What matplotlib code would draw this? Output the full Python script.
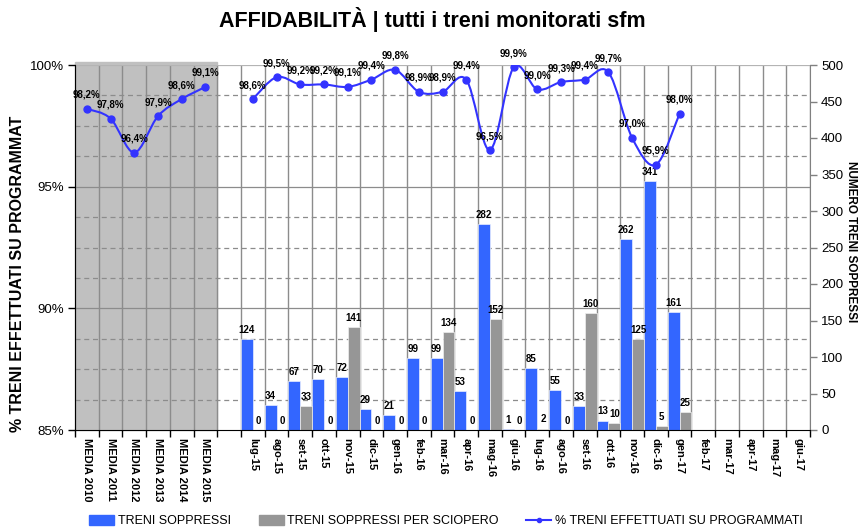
import numpy as np
import matplotlib
matplotlib.use("Agg")
from matplotlib import pyplot as plt
from matplotlib.path import Path
from matplotlib.patches import PathPatch
from matplotlib.lines import Line2D
from matplotlib.patches import Patch

plt.rcParams['font.family'] = ['Liberation Sans', 'DejaVu Sans']

# ---- data ----
media_labels = ['MEDIA 2010', 'MEDIA 2011', 'MEDIA 2012', 'MEDIA 2013', 'MEDIA 2014', 'MEDIA 2015']
month_labels = ['lug-15', 'ago-15', 'set-15', 'ott-15', 'nov-15', 'dic-15', 'gen-16', 'feb-16',
                'mar-16', 'apr-16', 'mag-16', 'giu-16', 'lug-16', 'ago-16', 'set-16', 'ott-16',
                'nov-16', 'dic-16', 'gen-17', 'feb-17', 'mar-17', 'apr-17', 'mag-17', 'giu-17']
media_pct = [98.2, 97.8, 96.4, 97.9, 98.6, 99.1]
month_pct = [98.6, 99.5, 99.2, 99.2, 99.1, 99.4, 99.8, 98.9, 98.9, 99.4, 96.5, 99.9,
             99.0, 99.3, 99.4, 99.7, 97.0, 95.9, 98.0]
soppressi = [124, 34, 67, 70, 72, 29, 21, 99, 99, 53, 282, 1, 85, 55, 33, 13, 262, 341, 161]
sciopero = [0, 0, 33, 0, 141, 0, 0, 0, 134, 0, 152, 0, 2, 0, 160, 10, 125, 5, 25]

labels = media_labels + [''] + month_labels
n = len(labels)
x_media = np.arange(len(media_labels))
x_month = np.arange(len(month_pct)) + len(media_labels) + 1

BLUE = '#3366FF'
GREY = '#969696'
LINE = '#3333FF'
GRID = '#8c8c8c'

fig = plt.figure(figsize=(8.58, 5.28), dpi=100)
ax = fig.add_axes([75/858, 98/528, 735/858, 365/528])   # bars, right scale
axl = ax.twinx()                                        # percent, left scale

ax.set_xlim(-0.5, n - 0.5)
ax.set_ylim(0, 500)
axl.set_ylim(85, 100)

# shaded MEDIA block
ax.axvspan(-0.5, len(media_labels) - 0.5, ymin=0, ymax=1.008, color='#C0C0C0', zorder=0, clip_on=False)

# horizontal grid (follows the percent axis)
for p in np.arange(85, 100.01, 1.25):
    yv = (p - 85) / 15 * 500
    if p == 100:
        ax.axhline(yv, color='#b4b4b4', lw=1.6, zorder=1)
    elif p % 5 == 0:
        if p > 85:
            ax.axhline(yv, color=GRID, lw=0.9, zorder=1)
    else:
        ax.axhline(yv, color=GRID, lw=0.9, ls=(0, (4, 3)), zorder=1)

# vertical grid at category boundaries
ax.set_xticks(np.arange(-0.5, n, 1))
ax.set_xticklabels([])
ax.set_xticks(np.arange(n), minor=True)
ax.set_xticklabels(labels, minor=True, rotation=-90, fontsize=8, fontweight='bold')
ax.grid(axis='x', which='major', color=GRID, lw=1.0, zorder=1)
ax.tick_params(axis='x', which='major', length=5, width=1, direction='out')
ax.tick_params(axis='x', which='minor', length=0, pad=6)
ax.set_axisbelow(True)

# bars
b1 = ax.bar(x_month - 0.25, soppressi, width=0.5, color=BLUE, edgecolor='#e8eeff', lw=0.5, zorder=2)
b2 = ax.bar(x_month + 0.25, sciopero, width=0.5, color=GREY, edgecolor='#eeeeee', lw=0.5, zorder=2)
for xb, v in zip(x_month - 0.25, soppressi):
    ax.annotate(str(v), (xb, v), xytext=(0, 3), textcoords='offset points', ha='center', va='bottom',
                fontsize=7, fontweight='bold')
for xb, v in zip(x_month + 0.25, sciopero):
    ax.annotate(str(v), (xb, v), xytext=(0, 3), textcoords='offset points', ha='center', va='bottom',
                fontsize=7, fontweight='bold')

# right axis
ax.yaxis.tick_right()
ax.set_yticks(np.arange(0, 501, 50))
ax.tick_params(axis='y', length=5, width=1, color='#808080', labelsize=9.5, pad=3)
ax.spines['right'].set_color('#808080')
ax.spines['top'].set_visible(False)
ax.spines['left'].set_visible(False)

# left axis
axl.yaxis.tick_left()
axl.set_yticks([85, 90, 95, 100])
axl.set_yticklabels(['85%', '90%', '95%', '100%'])
axl.tick_params(axis='y', length=5, width=1, labelsize=9.5, pad=3)
for s in ['top', 'right', 'bottom']:
    axl.spines[s].set_visible(False)
axl.spines['left'].set_color('black')


def smooth_path(xs, ys):
    # Bezier segments through the points (Excel-style smoothed line)
    pts = np.column_stack([xs, ys]).astype(float)
    verts = [pts[0]]
    codes = [Path.MOVETO]
    m = len(pts)
    for i in range(m - 1):
        p0 = pts[i - 1] if i > 0 else pts[i]
        p1 = pts[i]
        p2 = pts[i + 1]
        p3 = pts[i + 2] if i + 2 < m else pts[i + 1]
        c1 = p1 + (p2 - p0) / 6
        c2 = p2 - (p3 - p1) / 6
        verts += [c1, c2, p2]
        codes += [Path.CURVE4] * 3
    return Path(verts, codes)


for xs, ys in [(x_media, media_pct), (x_month, month_pct)]:
    axl.add_patch(PathPatch(smooth_path(xs, ys), fill=False, edgecolor=LINE, lw=1.5, zorder=3))
    axl.plot(xs, ys, 'o', color=LINE, ms=5, zorder=4)
    for xp, v in zip(xs, ys):
        axl.annotate(('%.1f%%' % v).replace('.', ','), (xp, v), xytext=(0, 6.5), textcoords='offset points',
                     ha='center', va='bottom', fontsize=7, fontweight='bold')

fig.text(432/858, 1 - 20/528, 'AFFIDABILITÀ | tutti i treni monitorati sfm', ha='center', va='center',
         fontsize=15.5, fontweight='bold')
fig.text(18/858, 1 - 432/528, '% TRENI EFFETTUATI SU PROGRAMMAT', rotation=90, ha='center', va='bottom',
         fontsize=11.5, fontweight='bold')
fig.text(851/858, 1 - 242/528, 'NUMERO TRENI SOPPRESSI', rotation=-90, ha='center', va='center',
         fontsize=8.5, fontweight='bold')

handles = [Patch(color=BLUE), Patch(color=GREY),
           Line2D([], [], color=LINE, lw=1.5, marker='o', ms=3)]
fig.legend(handles, ['TRENI SOPPRESSI', 'TRENI SOPPRESSI PER SCIOPERO', '% TRENI EFFETTUATI SU PROGRAMMATI'],
           loc='center', bbox_to_anchor=(446/858, 1 - 521/528), ncol=3, frameon=False, fontsize=9,
           handlelength=2.0, handleheight=0.9, handletextpad=0.3, columnspacing=2.2, borderpad=0)

fig.savefig('out.png', dpi=100)
